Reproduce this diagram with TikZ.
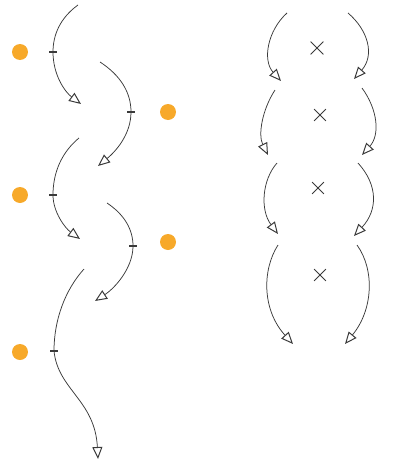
\documentclass[tikz,border=0pt]{standalone}
\usetikzlibrary{arrows.meta,shapes.misc}
\definecolor{dotorange}{HTML}{F7A92A}
\definecolor{pencil}{HTML}{3A3A3A}
\tikzset{
  dot/.style={circle, fill=dotorange, draw=none, minimum size=16pt, inner sep=0pt},
  xmark/.style={cross out, draw=pencil, line width=0.8pt, minimum size=12pt, inner sep=0pt},
  arc/.style={draw=pencil, line width=0.75pt, -{Triangle[open, length=12pt, width=10pt, line width=1pt]}},
  tickmark/.style={draw=pencil, line width=1.2pt},
}
\begin{document}
\begin{tikzpicture}[x=1pt, y=-1pt]
\useasboundingbox (0,0) rectangle (393,466);
% dots
\node[dot] (d1) at (20,52) {};
\node[dot] (d2) at (168,112) {};
\node[dot] (d3) at (20,195) {};
\node[dot] (d4) at (168,242) {};
\node[dot] (d5) at (20,352) {};
% left column coordinates
\coordinate (a1s) at (78,5);   \coordinate (a1t) at (53,52);  \coordinate (a1e) at (81,104);
\coordinate (a2s) at (100,62); \coordinate (a2t) at (131,112); \coordinate (a2e) at (98,166);
\coordinate (a3s) at (79,138); \coordinate (a3t) at (53,195); \coordinate (a3e) at (80,239);
\coordinate (a4s) at (107,203); \coordinate (a4t) at (133,246); \coordinate (a4e) at (95,301);
\coordinate (a5s) at (84,269); \coordinate (a5t) at (54,351); \coordinate (a5e) at (98,459);
\draw[arc] (a1s) .. controls (60,18) and (53,35) .. (a1t) .. controls (53,75) and (65,92) .. (a1e);
\draw[arc] (a2s) .. controls (120,75) and (131,92) .. (a2t) .. controls (131,135) and (115,152) .. (a2e);
\draw[arc] (a3s) .. controls (62,152) and (53,172) .. (a3t) .. controls (53,212) and (65,228) .. (a3e);
\draw[arc] (a4s) .. controls (125,215) and (133,230) .. (a4t) .. controls (133,268) and (115,288) .. (a4e);
\draw[arc] (a5s) .. controls (65,290) and (54,320) .. (a5t) .. controls (58,390) and (95,400) .. (a5e);
% ticks
\foreach \t in {a1t,a2t,a3t,a4t,a5t}
  \draw[tickmark] ([xshift=-4pt]\t) -- ([xshift=4pt]\t);
% right column
\node[xmark] (x1) at (317,48) {};
\node[xmark, minimum size=11pt] (x2) at (320,115) {};
\node[xmark, minimum size=11pt] (x3) at (318,188) {};
\node[xmark, minimum size=11pt] (x4) at (320,275) {};
\coordinate (l1s) at (287,13);  \coordinate (l1e) at (281,81);
\coordinate (l2s) at (275,90);  \coordinate (l2e) at (268,155);
\coordinate (l3s) at (277,163); \coordinate (l3e) at (278,234);
\coordinate (l4s) at (278,245); \coordinate (l4e) at (293,344);
\coordinate (r1s) at (348,13);  \coordinate (r1e) at (354,79);
\coordinate (r2s) at (362,88);  \coordinate (r2e) at (362,155);
\coordinate (r3s) at (358,163); \coordinate (r3e) at (354,236);
\coordinate (r4s) at (357,245); \coordinate (r4e) at (345,344);
\draw[arc] (l1s) .. controls (268,30) and (262,60) .. (l1e);
\draw[arc] (l2s) .. controls (262,110) and (258,135) .. (l2e);
\draw[arc] (l3s) .. controls (262,180) and (260,210) .. (l3e);
\draw[arc] (l4s) .. controls (262,270) and (262,310) .. (l4e);
\draw[arc] (r1s) .. controls (368,30) and (375,55) .. (r1e);
\draw[arc] (r2s) .. controls (378,110) and (380,135) .. (r2e);
\draw[arc] (r3s) .. controls (378,185) and (378,210) .. (r3e);
\draw[arc] (r4s) .. controls (375,270) and (373,310) .. (r4e);
\end{tikzpicture}
\end{document}
